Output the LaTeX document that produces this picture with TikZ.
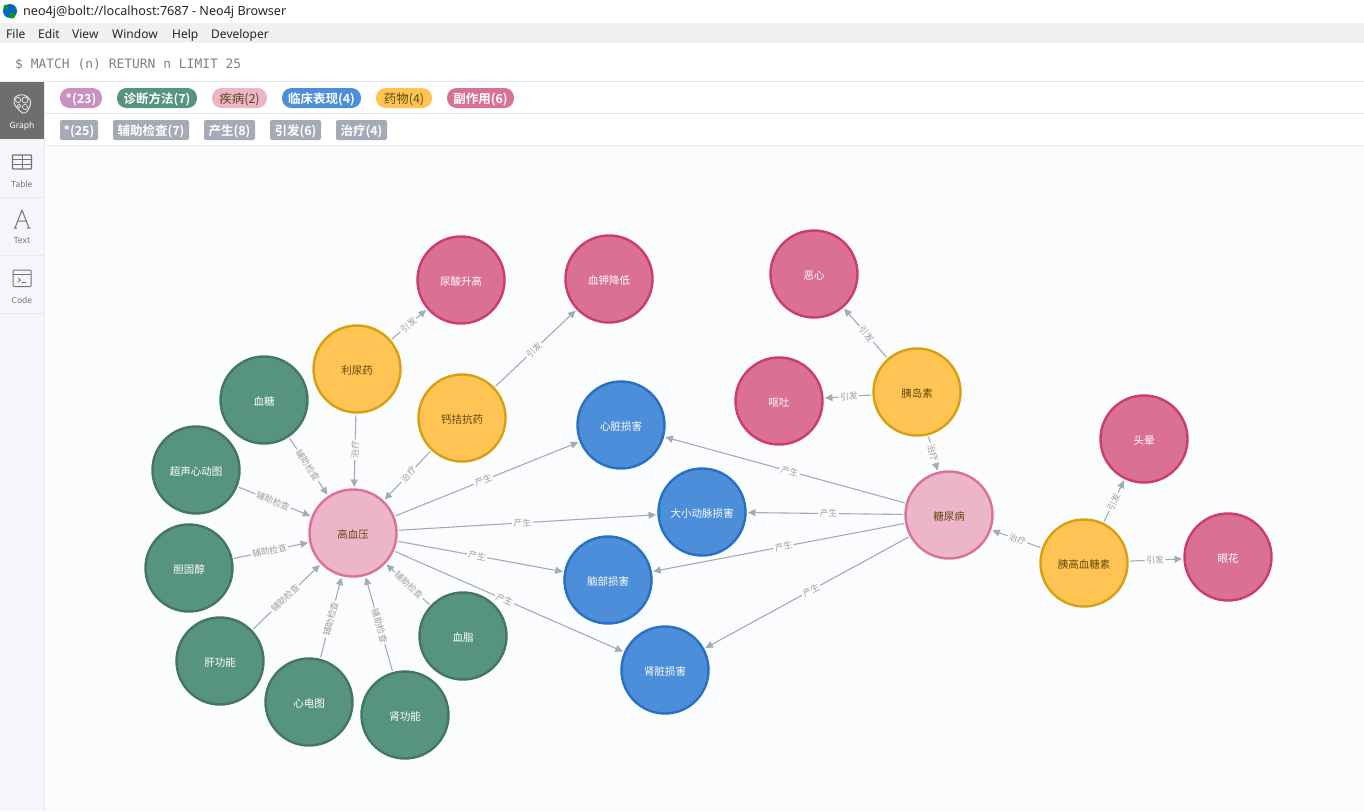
\documentclass[tikz,border=0pt]{standalone}
\usepackage{fontspec}
\setmainfont{Noto Sans}
\newfontfamily\cjk{Noto Sans CJK SC}
\newfontfamily\cjkb{Noto Sans CJK SC Bold}
\newfontfamily\mono{DejaVu Sans Mono}
\usetikzlibrary{arrows.meta}
\definecolor{bgc}{HTML}{FBFCFE}
\definecolor{linec}{HTML}{A5ABB6}
\definecolor{rimc}{HTML}{E6E9EF}
\definecolor{sidec}{HTML}{F5F6F9}
\definecolor{redf}{HTML}{DA7194}\definecolor{reds}{HTML}{CC3C6C}
\definecolor{grnf}{HTML}{569480}\definecolor{grns}{HTML}{447666}
\definecolor{pnkf}{HTML}{ECB5C9}\definecolor{pnks}{HTML}{DA7298}
\definecolor{bluf}{HTML}{4C8EDA}\definecolor{blus}{HTML}{2870C2}
\definecolor{yelf}{HTML}{FFC454}\definecolor{yels}{HTML}{D7A013}
\definecolor{allf}{HTML}{C990C0}
\definecolor{browt}{HTML}{604A0E}
\tikzset{
 x=1pt,y=-1pt,
 gnode/.style={circle,minimum size=87pt,inner sep=0pt,line width=2.4pt,text height=10pt,text depth=0pt,font=\cjk\fontsize{10.5}{11}\selectfont,outer sep=2.5pt},
 redn/.style={gnode,draw=reds,fill=redf,text=white},
 grnn/.style={gnode,draw=grns,fill=grnf,text=white},
 blun/.style={gnode,draw=blus,fill=bluf,text=white},
 pnkn/.style={gnode,draw=pnks,fill=pnkf,text=browt},
 yeln/.style={gnode,draw=yels,fill=yelf,text=browt},
 link/.style={draw=linec,line width=1.1pt,-{Triangle[length=7.5pt,width=7pt]}},
 linklabel/.style={pos=0.48,sloped,fill=bgc,inner sep=1.5pt,text=gray!75,font=\cjk\fontsize{8.8}{9}\selectfont},
 pill/.style={rounded corners=9.5pt,minimum height=20pt,inner sep=0pt,text height=11.5pt,text depth=0pt,font=\cjkb\fontsize{12.5}{13}\selectfont,text=white},
 tag/.style={rounded corners=2pt,fill=linec,minimum height=20pt,inner sep=0pt,text height=11.5pt,text depth=0pt,font=\cjkb\fontsize{12.5}{13}\selectfont,text=white},
 tablabel/.style={font=\fontsize{8.5}{10}\selectfont,text=gray!90!black},
 menu/.style={anchor=base west,font=\fontsize{12}{14}\selectfont,text=black!85},
 icon/.style={draw=gray!90!black,line width=1pt},
}
\newcommand{\lnk}[3]{\path[link] (#1) -- node[linklabel]{#3} (#2);}
\begin{document}
\begin{tikzpicture}
\useasboundingbox (0,0) rectangle (1364,811);
\fill[white] (0,0) rectangle (1364,811);
% window chrome
\fill[black!6] (0,23) rectangle (1364,43);
\fill[bgc] (45,146) rectangle (1364,811);
\fill[sidec] (0,82) rectangle (45,811);
\draw[rimc] (0,81.5) -- (1364,81.5);
\draw[rimc] (45,113.5) -- (1364,113.5);
\draw[rimc] (45,145.5) -- (1364,145.5);
\draw[rimc] (44.5,82) -- (44.5,811);
\fill[black!57] (0,82) rectangle (44,139);
\draw[rimc] (0,197.5) -- (44,197.5);
\draw[rimc] (0,255.5) -- (44,255.5);
\draw[rimc] (0,313.5) -- (44,313.5);
% app icon
\fill[blue!55!cyan!85!black] (10,11) circle (7);
\fill[green!65!black] (6,7) circle (2.5);\fill[green!65!black] (12,15.5) circle (3.2);\fill[green!65!black] (15,8) circle (1.5);
\node[anchor=base west,inner sep=0pt,font=\fontsize{12.6}{15}\selectfont,text=black!85] (title) at (23,16) {neo4j@bolt://localhost:7687 - Neo4j Browser};
\node[menu,inner sep=0pt] (mfile) at (6,38) {File};
\node[menu,inner sep=0pt] (medit) at (38,38) {Edit};
\node[menu,inner sep=0pt] (mview) at (72,38) {View};
\node[menu,inner sep=0pt] (mwin) at (112,38) {Window};
\node[menu,inner sep=0pt] (mhelp) at (172,38) {Help};
\node[menu,inner sep=0pt] (mdev) at (211,38) {Developer};
\node[anchor=base west,inner sep=0pt,font=\mono\fontsize{12.95}{15}\selectfont,text=gray] (query) at (15,68) {\$ MATCH (n) RETURN n LIMIT 25};
% sidebar
\draw[white!85!gray,line width=.9pt] plot[smooth cycle,tension=.8] coordinates {(17,96) (24,95) (30,100) (29.5,107) (25,113) (20,111) (15.5,106) (14,100)};
\draw[white!85!gray,line width=.7pt] (18,100) circle (2.6) (25,100) circle (3) (19,106) circle (1.8) (25,107) circle (2.5);
\node[tablabel,text=white,font=\bfseries\fontsize{8.5}{10}\selectfont] (tgraph) at (22,126.5) {Graph};
\draw[icon,line width=1.2pt,rounded corners=.5pt] (12.5,155) rectangle (31.5,169);
\draw[icon] (12.5,159.5) -- (31.5,159.5) (12.5,164) -- (31.5,164) (22,155) -- (22,169);
\node[tablabel] (ttable) at (22,184.5) {Table};
\draw[icon,line join=round] (15,228) -- (22,210) -- (29,228) (17.5,221) -- (26.5,221) (13.5,228) -- (17,228) (27,228) -- (30.5,228);
\node[tablabel] (ttext) at (22,240.5) {Text};
\draw[icon,rounded corners=1pt] (13,270) rectangle (31,286.5);
\draw[icon] (13,274) -- (31,274);
\draw[icon,line width=.8pt] (18,278) -- (20.5,280) -- (18,282) (22,282.5) -- (26,282.5);
\node[tablabel] (tcode) at (22,300.5) {Code};
% legend pills
\node[pill,fill=allf,minimum width=42pt] (p1) at (81,98) {*(23)};
\node[pill,fill=grnf,minimum width=80pt] (p2) at (157,98) {诊断方法(7)};
\node[pill,fill=pnkf,minimum width=55pt,text=browt,font=\cjk\fontsize{12.5}{13}\selectfont] (p3) at (239.5,98) {疾病(2)};
\node[pill,fill=bluf,minimum width=79pt] (p4) at (321.5,98) {临床表现(4)};
\node[pill,fill=yelf,minimum width=56pt,text=browt,font=\cjk\fontsize{12.5}{13}\selectfont] (p5) at (404,98) {药物(4)};
\node[pill,fill=redf,minimum width=67pt] (p6) at (480.5,98) {副作用(6)};
\node[tag,minimum width=38pt] (t1) at (79,130) {*(25)};
\node[tag,minimum width=76pt] (t2) at (151,130) {辅助检查(7)};
\node[tag,minimum width=51pt] (t3) at (229.5,130) {产生(8)};
\node[tag,minimum width=51pt] (t4) at (295.5,130) {引发(6)};
\node[tag,minimum width=51pt] (t5) at (361.5,130) {治疗(4)};
% graph nodes
\node[redn] (ns) at (461,280) {尿酸升高};
\node[redn] (kd) at (609,279) {血钾降低};
\node[redn] (ex) at (814,274) {恶心};
\node[yeln] (yd) at (917,392) {胰岛素};
\node[redn] (ot) at (779,401) {呕吐};
\node[redn] (ty) at (1144,439) {头晕};
\node[redn] (yh) at (1228,557) {眼花};
\node[yeln] (yg) at (1084,563) {胰高血糖素};
\node[pnkn] (tn) at (949,515) {糖尿病};
\node[blun] (xz) at (621,425) {心脏损害};
\node[blun] (dm) at (702,512) {大小动脉损害};
\node[blun] (nb) at (608,580) {脑部损害};
\node[blun] (sz) at (665,670) {肾脏损害};
\node[pnkn] (gx) at (353,533) {高血压};
\node[yeln] (ln) at (357,369) {利尿药};
\node[yeln] (gj) at (462,418) {钙拮抗药};
\node[grnn] (xt) at (264,400) {血糖};
\node[grnn] (cs) at (196,470) {超声心动图};
\node[grnn] (dg) at (189,568) {胆固醇};
\node[grnn] (gg) at (220,661) {肝功能};
\node[grnn] (xd) at (309,702) {心电图};
\node[grnn] (sg) at (405,715) {肾功能};
\node[grnn] (xz2) at (463,636) {血脂};
% connectors
\lnk{ln}{ns}{引发}
\lnk{gj}{kd}{引发}
\lnk{yd}{ex}{引发}
\lnk{yd}{ot}{引发}
\lnk{yd}{tn}{治疗}
\lnk{yg}{ty}{引发}
\lnk{yg}{yh}{引发}
\lnk{yg}{tn}{治疗}
\lnk{tn}{xz}{产生}
\lnk{tn}{dm}{产生}
\lnk{tn}{nb}{产生}
\lnk{tn}{sz}{产生}
\lnk{gx}{xz}{产生}
\lnk{gx}{dm}{产生}
\lnk{gx}{nb}{产生}
\lnk{gx}{sz}{产生}
\lnk{ln}{gx}{治疗}
\lnk{gj}{gx}{治疗}
\lnk{xt}{gx}{辅助检查}
\lnk{cs}{gx}{辅助检查}
\lnk{dg}{gx}{辅助检查}
\lnk{gg}{gx}{辅助检查}
\lnk{xd}{gx}{辅助检查}
\lnk{sg}{gx}{辅助检查}
\lnk{xz2}{gx}{辅助检查}
\end{tikzpicture}
\end{document}
